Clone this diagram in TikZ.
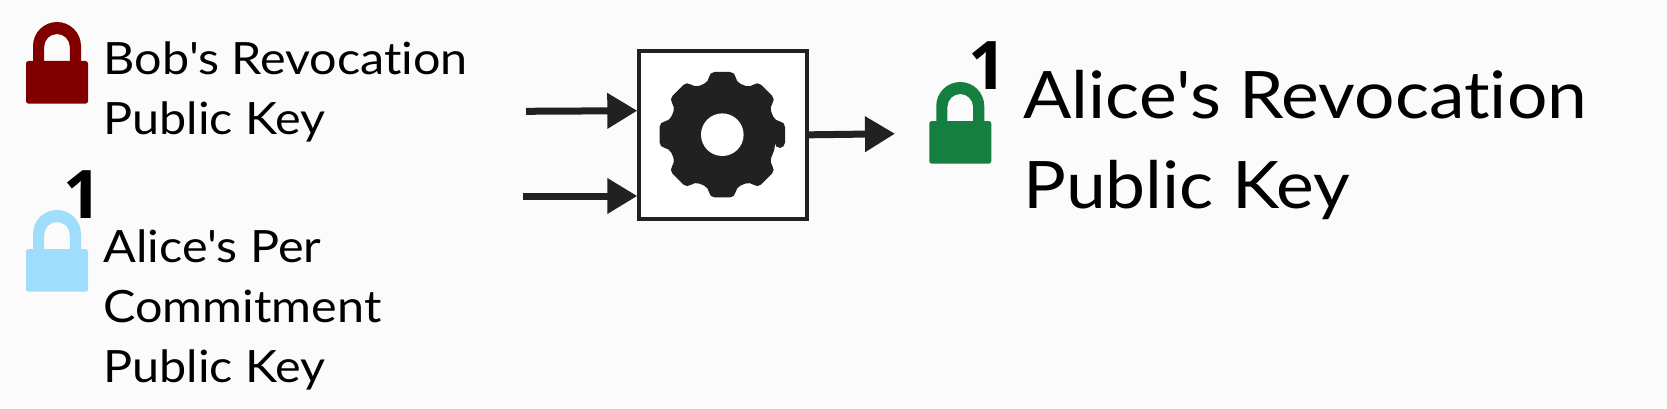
\documentclass[tikz,border=0pt]{standalone}
\usepackage{fontspec}
\setmainfont[Ligatures=NoCommon,FakeStretch=1.09]{Lato}
\newfontfamily\numfont{Open Sans}
\usetikzlibrary{arrows.meta}
\definecolor{bgc}{HTML}{FBFBFB}
\definecolor{ink}{HTML}{212121}
\definecolor{lockred}{HTML}{800000}
\definecolor{lockblue}{HTML}{A0DCFB}
\definecolor{lockgreen}{HTML}{147F41}
\tikzset{
  x=1pt,y=1pt,
  lbl/.style={anchor=base west,inner sep=0pt,outer sep=0pt,align=left,text=black},
  small/.style={lbl,font=\fontsize{44.5}{60}\selectfont},
  big/.style={lbl,font=\fontsize{65.5}{90}\selectfont},
  num/.style={anchor=base east,inner sep=0pt,outer sep=0pt,text=black,font=\numfont\fontsize{67}{67}\selectfont\bfseries},
  flow/.style={draw=ink,line width=7pt,-{Triangle[length=30pt,width=34pt]}},
  gearbox/.style={draw=ink,fill=white,line width=4pt,inner sep=0pt,outer sep=0pt,minimum width=168pt,minimum height=167.7pt},
  pics/lock/.style={code={
    \fill[#1,even odd rule] (-24,0) -- (-24,15) arc[start angle=180,end angle=0,radius=24] -- (24,0) -- (12.8,0) -- (12.8,14.2) arc[start angle=0,end angle=180,radius=12.8] -- (-12.8,0) -- cycle;
    \fill[#1,rounded corners=2.5pt] (-31,0) rectangle (31,-42.7);
  }}
}
\begin{document}
\begin{tikzpicture}
\useasboundingbox (0,0) rectangle (1667,408);
\fill[bgc] (0,0) rectangle (1667,408);

% locks
\pic at (57,347) {lock=lockred};
\pic at (57,159) {lock=lockblue};
\pic at (960.25,287) {lock=lockgreen};

% numbers
\node[num] (n1) at (101.5,190) {1};
\node[num] (n2) at (1007,319) {1};

% texts
\node[small] (t1) at (103.5,274) {Bob\textquotesingle s Revocation\\Public Key};
\node[small] (t2) at (103.5,26) {Alice\textquotesingle s Per\\Commitment\\Public Key};
\node[big] (t3) at (1023.5,199.3) {Alice\textquotesingle s Revocation\\Public Key};

% process box
\node[gearbox] (box) at (722.7,273.15) {};
\begin{scope}[shift={(722.3,273.3)}]
\fill[ink,rounded corners=5pt] (-14.5:54.5)
  \foreach \a in {0,45,...,315}{
    -- (\a-14.5:54.5) -- (\a-11.5:64) -- (\a+11.5:64) -- (\a+14.5:54.5)
  } -- cycle;
\fill[white] (0,0) circle[radius=21.3];
\end{scope}

% connectors
\coordinate (s1) at (526,296.7);
\coordinate (e1) at (637.3,297.3);
\coordinate (s2) at (523.3,212);
\coordinate (e2) at (637.3,212);
\coordinate (e3) at (895,274.3);
\draw[flow] (s1) -- (e1);
\draw[flow] (s2) -- (e2);
\draw[flow] (box.east) -- (e3);
\end{tikzpicture}
\end{document}
